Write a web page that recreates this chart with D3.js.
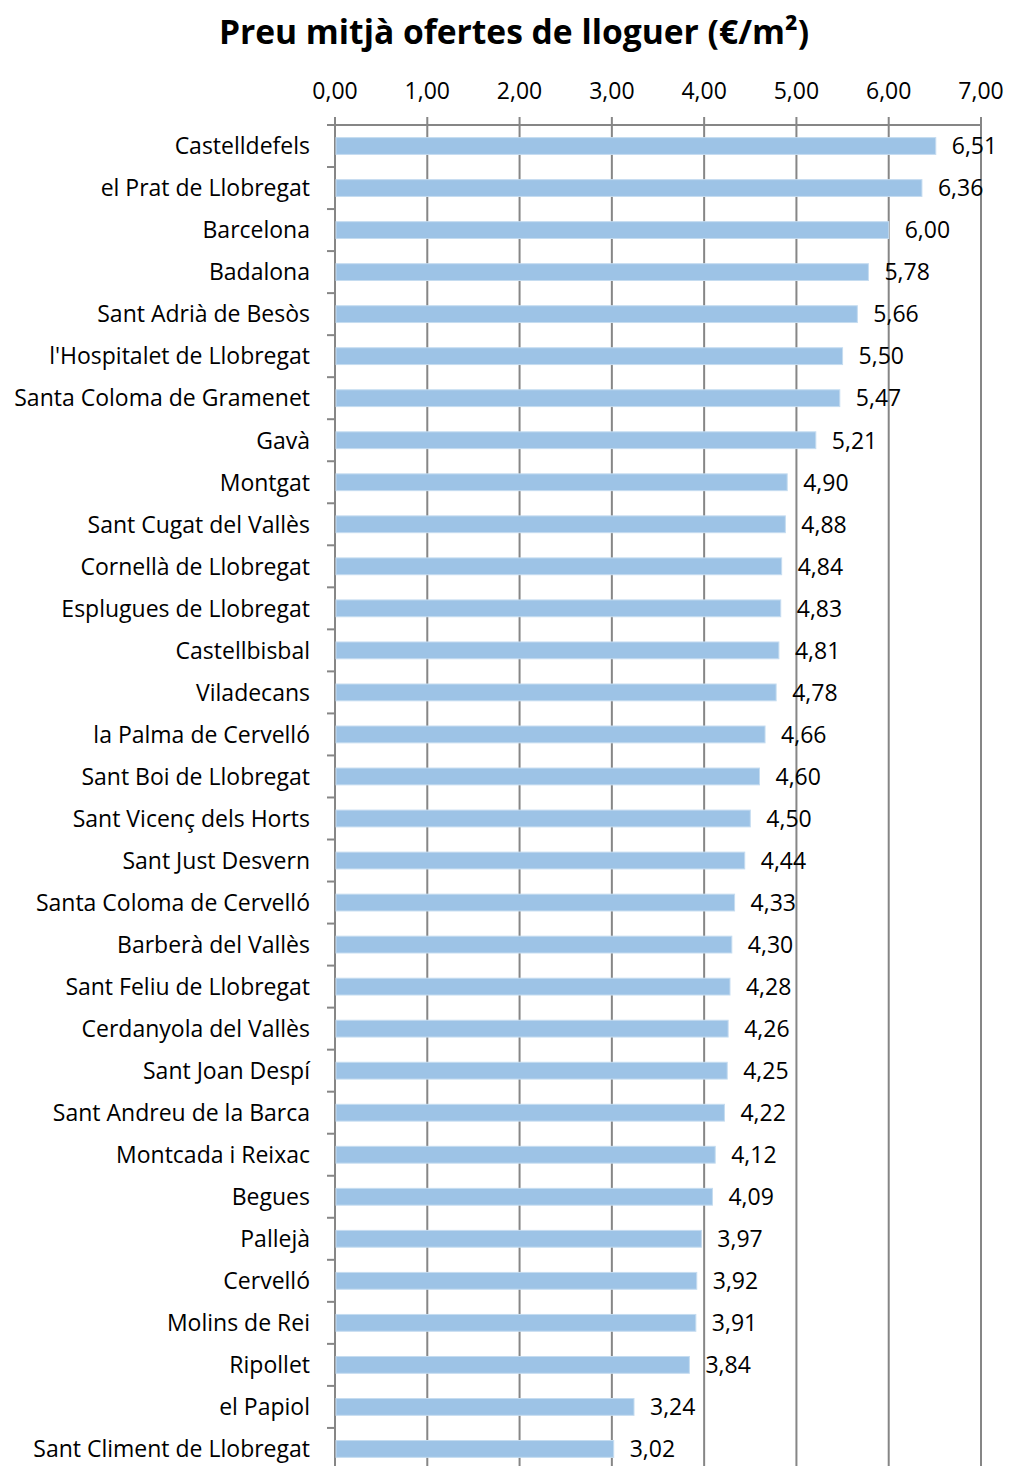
<!DOCTYPE html>
<html>
<head>
<meta charset="utf-8">
<script src="https://cdn.jsdelivr.net/npm/d3@7"></script>
<style>
  body { margin: 0; background: #fff; }
  text { font-family: "Open Sans", sans-serif; fill: #000; }
</style>
</head>
<body>
<script>
var municipis = [
  "Castelldefels", "el Prat de Llobregat", "Barcelona", "Badalona",
  "Sant Adrià de Besòs", "l'Hospitalet de Llobregat", "Santa Coloma de Gramenet",
  "Gavà", "Montgat", "Sant Cugat del Vallès", "Cornellà de Llobregat",
  "Esplugues de Llobregat", "Castellbisbal", "Viladecans", "la Palma de Cervelló",
  "Sant Boi de Llobregat", "Sant Vicenç dels Horts", "Sant Just Desvern",
  "Santa Coloma de Cervelló", "Barberà del Vallès", "Sant Feliu de Llobregat",
  "Cerdanyola del Vallès", "Sant Joan Despí", "Sant Andreu de la Barca",
  "Montcada i Reixac", "Begues", "Pallejà", "Cervelló", "Molins de Rei",
  "Ripollet", "el Papiol", "Sant Climent de Llobregat"
]
var preus = [
  6.51, 6.36, 6.00, 5.78, 5.66, 5.50, 5.47, 5.21, 4.90, 4.88, 4.84, 4.83,
  4.81, 4.78, 4.66, 4.60, 4.50, 4.44, 4.33, 4.30, 4.28, 4.26, 4.25, 4.22,
  4.12, 4.09, 3.97, 3.92, 3.91, 3.84, 3.24, 3.02
]
var ticks = [0, 1, 2, 3, 4, 5, 6, 7]
var titol = "Preu mitjà ofertes de lloguer (€/m²)"

;(function() {
  var W = 1010, H = 1466
  var x0 = 335, x1 = 981, y0 = 125, rowH = 42.03

  var fmt = function(v) { return v.toFixed(2).replace(".", ",") }

  var svg = d3.select("body").append("svg")
    .attr("width", W).attr("height", H)

  var x = d3.scaleLinear().domain([0, 7]).range([x0, x1])
  var y = d3.scaleBand().domain(municipis)
    .range([y0, y0 + rowH * municipis.length])
    .paddingInner(0.6).paddingOuter(0.3)

  svg.append("text")
    .attr("x", 514).attr("y", 44)
    .attr("text-anchor", "middle")
    .style("font-size", "33.6px").style("font-weight", "bold")
    .text(titol)

  // gridlines
  svg.append("g").selectAll("line")
    .data(ticks)
    .enter().append("line")
    .attr("x1", function(d) { return x(d) }).attr("x2", function(d) { return x(d) })
    .attr("y1", y0 - 8).attr("y2", H)
    .style("stroke", "#868686").style("stroke-width", 2)

  // top axis line
  svg.append("line")
    .attr("x1", x0).attr("x2", x1).attr("y1", y0).attr("y2", y0)
    .style("stroke", "#868686").style("stroke-width", 2)

  // tick labels
  svg.append("g").selectAll("text")
    .data(ticks)
    .enter().append("text")
    .attr("x", function(d) { return x(d) })
    .attr("y", 99)
    .attr("text-anchor", "middle")
    .style("font-size", "23px")
    .text(fmt)

  // category ticks
  var bounds = d3.range(municipis.length + 1).map(function(i) { return y0 + i * rowH })
  svg.append("g").selectAll("line")
    .data(bounds)
    .enter().append("line")
    .attr("x1", x0 - 8).attr("x2", x0)
    .attr("y1", function(d) { return d }).attr("y2", function(d) { return d })
    .style("stroke", "#868686").style("stroke-width", 2)

  // bars
  svg.append("g").selectAll("rect")
    .data(preus)
    .enter().append("rect")
    .attr("x", x(0) + 1)
    .attr("y", function(d, i) { return y(municipis[i]) })
    .attr("width", function(d) { return x(d) - x(0) - 1 })
    .attr("height", y.bandwidth())
    .style("fill", "#9dc3e6")
    .style("stroke", "#c5dcf0").style("stroke-width", 1)

  // value labels
  svg.append("g").selectAll("text")
    .data(preus)
    .enter().append("text")
    .attr("x", function(d) { return x(d) + 16 })
    .attr("y", function(d, i) { return y(municipis[i]) + y.bandwidth() / 2 })
    .attr("dy", "0.36em")
    .style("font-size", "23px")
    .text(fmt)

  // category labels
  svg.append("g").selectAll("text")
    .data(municipis)
    .enter().append("text")
    .attr("x", 310)
    .attr("y", function(d) { return y(d) + y.bandwidth() / 2 })
    .attr("dy", "0.36em")
    .attr("text-anchor", "end")
    .style("font-size", "23px")
    .text(function(d) { return d })
})()
</script>
</body>
</html>
